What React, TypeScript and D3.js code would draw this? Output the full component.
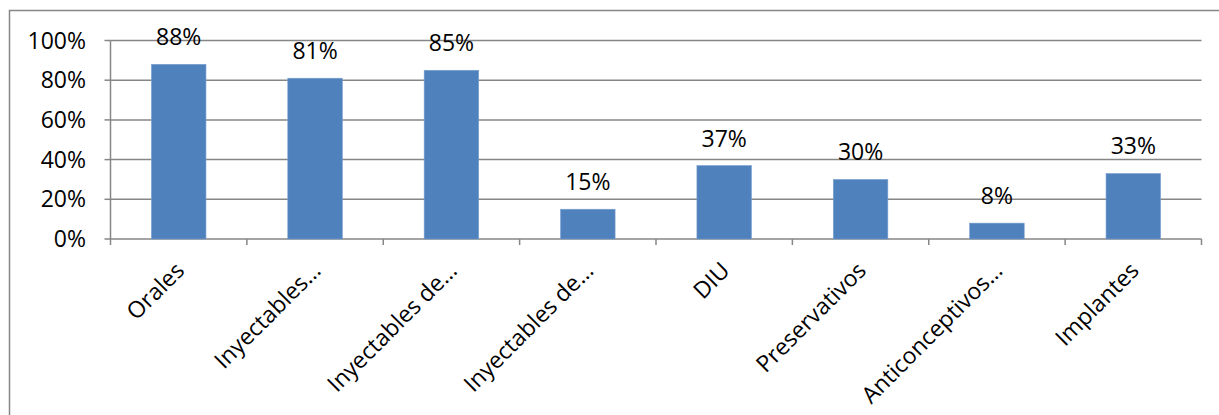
import React from "react";
import * as d3 from "d3";

const categories = [
  "Orales",
  "Inyectables…",
  "Inyectables de…",
  "Inyectables de…",
  "DIU",
  "Preservativos",
  "Anticonceptivos…",
  "Implantes",
];
const values = [0.88, 0.81, 0.85, 0.15, 0.37, 0.3, 0.08, 0.33];
const yTicks = [0, 0.2, 0.4, 0.6, 0.8, 1];

const W = 1219;
const H = 415;
const left = 110.5;
const right = 1201.5;
const top = 40.5;
const bottom = 239;
const FONT = "'Open Sans', sans-serif";
const FS = 23;
const GRID = "#868686";
const BAR = "#4F81BD";

export default function App() {
  const idx = categories.map((_, i) => String(i));
  const x = d3
    .scaleBand<string>()
    .domain(idx)
    .range([left, right])
    .paddingInner(0.6)
    .paddingOuter(0.3);
  const y = d3.scaleLinear().domain([0, 1]).range([bottom, top]);
  const step = (right - left) / categories.length;
  const fmt = d3.format(".0%");
  const boundaries = d3.range(categories.length + 1).map((i) => left + i * step);

  return (
    <svg
      width={W}
      height={H}
      style={{ position: "absolute", left: 0, top: 0, background: "#fff" }}
      fontFamily={FONT}
    >
      <rect x={9.5} y={10.5} width={W} height={H} fill="#fff" stroke={GRID} strokeWidth={1.5} />
      {yTicks.map((t) => (
        <g key={t}>
          <line x1={left} x2={right} y1={y(t)} y2={y(t)} stroke={GRID} strokeWidth={1.5} />
          <line x1={left - 6} x2={left} y1={y(t)} y2={y(t)} stroke={GRID} strokeWidth={1.5} />
          <text x={86} y={y(t)} dy="0.35em" textAnchor="end" fontSize={FS} fill="#000">
            {fmt(t)}
          </text>
        </g>
      ))}
      <line x1={left} x2={left} y1={top} y2={bottom} stroke={GRID} strokeWidth={1.5} />
      {boundaries.map((b, i) => (
        <line key={i} x1={b} x2={b} y1={bottom} y2={bottom + 6} stroke={GRID} strokeWidth={1.5} />
      ))}
      {values.map((v, i) => (
        <g key={i}>
          <rect
            x={x(String(i))}
            y={y(v)}
            width={x.bandwidth()}
            height={bottom - y(v)}
            fill={BAR}
            stroke="#7aa0cf"
            strokeWidth={0.6}
          />
          <text
            x={(x(String(i)) as number) + x.bandwidth() / 2}
            y={y(v) - 19}
            textAnchor="middle"
            fontSize={FS}
            fill="#000"
          >
            {fmt(v)}
          </text>
        </g>
      ))}
      {categories.map((c, i) => {
        const cx = (x(String(i)) as number) + x.bandwidth() / 2 + 7;
        const cy = bottom + 33;
        return (
          <text
            key={i}
            transform={`translate(${cx},${cy}) rotate(-45)`}
            textAnchor="end"
            fontSize={FS}
            fill="#000"
          >
            {c}
          </text>
        );
      })}
    </svg>
  );
}
